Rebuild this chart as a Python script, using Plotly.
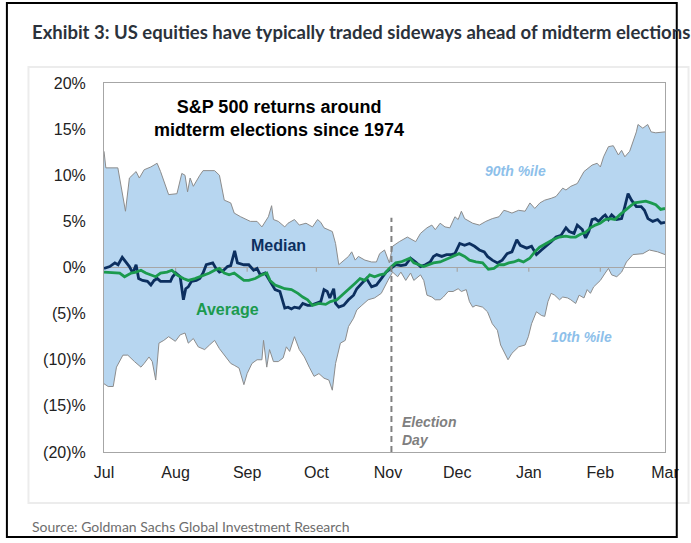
import plotly.graph_objects as go

# S&P 500 returns around midterm elections since 1974
# x = trading-calendar days after 1 Jul, y = % return

month_names = ["Jul", "Aug", "Sep", "Oct", "Nov", "Dec", "Jan", "Feb", "Mar"]
month_days = [0, 31, 62, 92, 123, 153, 184, 215, 243]
y_ticks = [-20, -15, -10, -5, 0, 5, 10, 15, 20]
y_labels = ["(20)%", "(15)%", "(10)%", "(5)%", "0%", "5%", "10%", "15%", "20%"]
election_day = 124.5

p90_day = [0, 0.8, 6, 9.3, 11, 13.9, 15.3, 17.4, 20.3, 23, 24.5, 28, 31.6, 33.7, 35.1, 36.2,
           37.3, 38.7, 41.5, 42.9, 47.9, 50, 52.1, 54.9, 56.4, 59.2, 63.4, 66.3, 68.4, 71.2,
           72.6, 73.4, 75.5, 78.3, 79.7, 82.5, 84.6, 87.5, 90.3, 92.5, 93.9, 95.3, 98.9, 100.3,
           101.7, 103.8, 105.9, 107.3, 108.8, 110.2, 113, 115.9, 118, 119.4, 121.5, 123.6, 125,
           127.9, 131.4, 135, 137.1, 139.9, 142, 143.5, 145.6, 147.7, 149.8, 152, 153.4, 154.8,
           156.2, 159.7, 162.6, 165.4, 168.2, 171.1, 173.2, 174.6, 176.7, 179.6, 182.4, 184.5,
           186.6, 188.8, 190.9, 193.7, 195.8, 198.7, 200.1, 202.2, 205, 207.9, 210, 211.4, 213.6,
           215, 216.4, 218.5, 220.6, 222.8, 224.2, 225.6, 227.7, 229.1, 230.6, 231.3, 233.4,
           235.5, 237, 239, 243]
p90_pct = [12.6, 10.8, 10.8, 6.1, 9.7, 10.4, 9.7, 10.6, 10.9, 11.3, 10.4, 7.9, 8.0, 10.2, 10.0, 8.2,
           9.7, 8.8, 10.0, 10.5, 10.5, 10.0, 7.3, 7.0, 5.9, 5.5, 5.0, 5.0, 4.4, 5.5,
           6.7, 5.2, 5.0, 4.4, 4.8, 5.2, 4.6, 4.8, 4.4, 5.2, 4.9, 4.3, 3.9, 2.6,
           0.3, 0.8, 1.2, 1.7, 0.8, 1.2, 0.8, 0.6, 0.6, 1.5, 1.9, 0.5, 2.3,
           2.8, 3.3, 2.8, 3.7, 4.3, 4.6, 4.1, 4.8, 4.4, 4.3, 5.5, 5.2, 6.1,
           5.3, 4.8, 4.6, 5.0, 5.3, 5.5, 6.2, 6.1, 5.9, 6.2, 6.1, 7.0,
           6.4, 7.0, 7.3, 7.5, 7.7, 8.6, 8.4, 8.8, 9.1, 10.4, 10.8, 11.1, 11.3,
           10.9, 12.0, 13.1, 13.2, 12.2, 12.7, 12.0, 12.6, 13.6, 14.7, 15.5, 15.1,
           15.5, 14.7, 14.6, 14.7]

p10_day = [0, 1.8, 4, 5.4, 8.2, 10.3, 13.2, 16, 17.4, 19.5, 20.9, 22.4, 23.8, 25.9, 28, 30.9,
           33, 35.1, 36.5, 38.7, 40.8, 43.6, 45.7, 47.9, 50, 52.8, 54.9, 56.4, 58.5, 60.6, 62,
           64.1, 66.3, 68.4, 69.1, 70.5, 71.7, 73.4, 75.5, 77.6, 79, 80.4, 82.5, 84.6, 86.8,
           88.9, 91, 93.1, 95.3, 97.4, 98.9, 100.3, 102.4, 104.5, 105.9, 108.1, 109.5, 111.7,
           114.4, 117.2, 120.1, 123, 125, 127.2, 128.6, 130.7, 132.8, 134.2, 137.1, 138.5,
           139.9, 142, 143.5, 145.6, 147, 149.1, 151.2, 153.4, 154.8, 156.9, 158.3, 159.7,
           161.1, 164, 166.1, 168.2, 170.4, 171.8, 173.9, 175, 176.7, 179.6, 182.4, 183.8,
           185.2, 187.3, 189.5, 190.9, 192.3, 193.7, 195.2, 197.3, 198.7, 200.8, 202.2, 204.3,
           205.8, 207.9, 209.3, 210.7, 212.1, 215, 217.1, 218.5, 219.9, 222.1, 224.2, 226.3,
           229.1, 233.4, 236.2, 239.8, 243]
p10_pct = [-12.6, -12.9, -12.9, -10.8, -9.5, -9.5, -10.2, -10.8, -10.4, -9.7, -10.2, -12.2, -8.2,
           -7.9, -7.5, -8.0, -7.3, -7.1, -8.2, -7.7, -8.6, -8.9, -8.4, -7.9, -8.8, -9.7, -10.4,
           -10.6, -10.9, -12.7, -11.5, -10.4, -10.0, -10.0, -7.9, -10.8, -8.9, -10.2, -10.2,
           -9.8, -8.6, -9.1, -7.5, -8.9, -9.7, -10.8, -11.8, -11.5, -12.0, -12.2, -13.3, -10.4,
           -8.2, -7.9, -6.4, -5.5, -4.6, -4.1, -3.5, -3.3, -2.8, -1.4, -0.5, -1.0, -0.5, -1.4,
           -0.6, -1.4, -0.8, -1.4, -3.0, -3.2, -3.5, -3.5, -3.2, -2.6, -2.6, -2.3, -2.6, -2.4,
           -3.7, -4.3, -4.1, -4.3, -4.8, -6.1, -6.8, -8.4, -9.5, -10.0, -9.3, -8.6, -8.4, -7.5,
           -6.1, -4.8, -5.2, -5.3, -3.7, -2.8, -3.0, -3.5, -3.2, -3.3, -3.5, -3.9, -3.0, -3.3,
           -2.4, -2.8, -2.1, -1.4, -0.6, -0.1, -0.8, -1.0, -0.5, 0.6, 1.4, 1.5, 1.9, 1.7, 1.4]

med_day = [0, 2.5, 4.7, 6.1, 7.9, 9.3, 11, 12.5, 13.9, 15, 16.7, 18.8, 20.3, 21.7, 23.1, 24.5,
           26.6, 28.8, 29.7, 31.1, 33, 34.4, 35.4, 36.5, 37.9, 40, 41.5, 42.9, 44.3, 47.1, 48.5,
           50, 51.8, 53.5, 54.9, 56.6, 57.8, 60.6, 62.7, 64.8, 66.3, 67.7, 69.8, 71.2, 72.6,
           74.1, 76.2, 77.6, 78.3, 79.7, 81.2, 82.5, 84.6, 86.1, 88.2, 89.6, 91.8, 93.9, 95.3,
           96.7, 97.8, 99.5, 100.3, 101.7, 103.8, 105.9, 108.1, 109.5, 111.7, 113.7, 115.9, 118,
           120.1, 122.2, 124.3, 126.4, 128.6, 130.7, 132.8, 135, 137.1, 139.2, 141.3, 142.7,
           144.1, 146.3, 148.4, 150.5, 152, 154.1, 156.2, 158.3, 160.5, 162.6, 164.7, 166.1,
           168.2, 170.4, 172.5, 174.6, 176.7, 178.8, 180.3, 183.1, 185.2, 187.3, 189.5, 191.6,
           193.7, 195.8, 198, 200.1, 201.5, 203.6, 205, 207.2, 208.6, 210, 211.4, 212.8, 214.2,
           216.1, 217.1, 218.5, 219.9, 222.1, 224.2, 225.6, 227, 228.5, 230.6, 232.7, 234.1,
           235.6, 237.7, 239.8, 241.3, 243]
med_pct = [-0.1, 0.1, 0.5, 0.3, 1.1, 0.6, 0.1, -0.6, 0.3, -1.2, -1.4, -1.5, -1.9, -1.4, -1.2, -1.5,
           -1.5, -1.5, -1.0, -0.6, -1.0, -3.5, -2.3, -2.1, -1.5, -1.4, -1.2, -0.6, 0.3, 0.5, -0.1,
           -0.5, -0.3, 0.1, 0.2, 1.8, 0.5, 0.3, 0.3, -0.3, -0.1, -0.8, -0.6, -1.2, -1.9,
           -2.4, -2.6, -3.9, -4.4, -4.3, -4.5, -4.3, -4.4, -3.9, -4.1, -4.1, -3.9, -3.7, -2.4,
           -2.6, -3.3, -2.3, -3.9, -4.3, -4.1, -3.5, -3.0, -2.3, -1.7, -1.2, -2.1, -1.9,
           -1.2, -0.5, -0.1, 0.3, 0.2, 0.3, 1.0, 0.6, 0.1, 0.3, 0.6, 1.2,
           1.4, 1.2, 1.4, 1.4, 1.5, 2.6, 2.4, 2.6, 2.3, 1.9, 1.7, 1.2,
           0.8, 0.5, 0.8, 1.5, 1.7, 3.0, 2.4, 2.1, 2.3, 1.4, 1.9, 2.3,
           2.8, 3.3, 3.5, 4.3, 3.9, 3.7, 4.6, 4.1, 3.2, 3.9, 5.2, 5.3, 5.0,
           5.5, 5.7, 5.2, 5.7, 5.2, 5.3, 6.6, 8.0, 7.3, 6.6, 6.6, 6.2,
           5.3, 5.0, 5.2, 4.8, 4.9]

avg_day = [0, 4, 6.8, 8.9, 11.8, 13.9, 16, 18.1, 20.3, 22.4, 24.5, 27.3, 29.4, 31.6, 34.4, 36.5,
           39.4, 41.5, 43.6, 45.7, 47.9, 50, 52.1, 54.2, 56.4, 58.5, 60.6, 62.7, 65.5, 68.4, 70.5,
           71.9, 74.1, 76.2, 78.3, 81.2, 84, 86.1, 88.2, 90.3, 93.1, 96, 98.1, 100.9, 103.8,
           105.9, 108.8, 110.9, 113, 115.1, 117.2, 119.4, 121.5, 123.6, 126.4, 128.6, 130.7,
           132.5, 134.2, 136.3, 138.5, 140.6, 142.7, 145.6, 149.1, 151.2, 153.8, 156.2, 158.3,
           161.1, 164, 166.5, 168.9, 171.1, 173.2, 175.3, 177.5, 179.6, 181.7, 184.4, 186.6,
           188.7, 191.5, 194.4, 197.2, 200, 202.2, 204.3, 206.4, 208.5, 210.7, 212.8, 214.9,
           217.1, 219.2, 221.3, 223.4, 225.6, 227.7, 229.8, 232.6, 234.7, 236.9, 239, 241.1, 243]
avg_pct = [-0.5, -0.6, -0.6, -1.0, -0.6, -0.5, -0.3, -0.6, -0.8, -1.0, -0.6, -0.5, -0.3, -0.8,
           -1.2, -1.4, -1.2, -1.0, -0.8, -0.6, -0.3, -0.1, -0.6, -0.8, -0.6, -1.0, -1.4, -1.4,
           -1.2, -0.8, -0.6, -1.4, -1.9, -2.1, -2.3, -2.4, -2.8, -3.2, -3.5, -4.1, -3.9, -4.0,
           -3.7, -3.5, -2.8, -2.3, -1.7, -1.2, -1.4, -0.8, -1.0, -0.8, -0.7, -0.1, 0.5, 0.6,
           0.8, 1.0, 0.5, 0.3, 0.1, 0.3, 0.5, 0.6, 1.0, 1.2, 1.5, 1.2, 0.8, 0.6, 0.5, -0.2,
           -0.1, 0.3, 0.3, 0.5, 0.6, 0.8, 0.6, 1.0, 1.7, 2.2, 2.6, 3.0, 3.3, 3.4, 3.3, 3.3,
           3.6, 3.8, 4.3, 4.6, 4.8, 5.2, 5.3, 5.2, 5.7, 6.2, 6.6, 7.0, 7.1, 7.2, 7.0, 6.8, 6.3, 6.4]

BAND = "#b7d6f0"
EDGE = "#8c8c8c"
NAVY = "#0c2f5f"
GREEN = "#1b9a4e"
AXIS = "#a6a6a6"

fig = go.Figure()

# 10th / 90th percentile band
fig.add_trace(go.Scatter(x=p10_day, y=p10_pct, mode="lines",
                         line=dict(color=EDGE, width=1), hoverinfo="skip"))
fig.add_trace(go.Scatter(x=p90_day, y=p90_pct, mode="lines", fill="tonexty",
                         fillcolor=BAND, line=dict(color=EDGE, width=1), hoverinfo="skip"))

# zero line with small month ticks
fig.add_trace(go.Scatter(x=[month_days[0], month_days[-1]], y=[0, 0], mode="lines",
                         line=dict(color=AXIS, width=1.2), hoverinfo="skip"))
tx, ty = [], []
for m in month_days[1:-1]:
    tx += [m, m, None]
    ty += [0, -0.45, None]
fig.add_trace(go.Scatter(x=tx, y=ty, mode="lines", line=dict(color=AXIS, width=1.2),
                         hoverinfo="skip"))

fig.add_trace(go.Scatter(x=med_day, y=med_pct, mode="lines", name="Median",
                         line=dict(color=NAVY, width=2.8)))
fig.add_trace(go.Scatter(x=avg_day, y=avg_pct, mode="lines", name="Average",
                         line=dict(color=GREEN, width=2.8)))

# election day marker
fig.add_shape(type="line", x0=election_day, x1=election_day, y0=-20, y1=5.4,
              line=dict(color="#808080", width=2, dash="6px,4px"))

arial = "Liberation Sans, Arial, sans-serif"
notes = [
    (76, 16.1, "<b>S&P 500 returns around<br>midterm elections since 1974</b>", "black", 18, "center"),
    (75.6, 2.4, "<b>Median</b>", NAVY, 16, "center"),
    (53.7, -4.6, "<b>Average</b>", GREEN, 16, "center"),
    (178.2, 10.5, "<b><i>90th %ile</i></b>", "#8dc0ea", 14, "center"),
    (206.9, -7.5, "<b><i>10th %ile</i></b>", "#8dc0ea", 14, "center"),
    (128.3, -17.7, "<b><i>Election<br>Day</i></b>", "#7f7f7f", 14, "left"),
]
for x, y, t, c, s, a in notes:
    fig.add_annotation(x=x, y=y, text=t, showarrow=False, xanchor=a, align=a,
                       font=dict(family=arial, size=s, color=c))

# title, source, card and outer frame
fig.add_annotation(xref="paper", yref="paper", x=(29 - 104) / 572, y=(452 - 32) / 369,
                   xanchor="left", yanchor="middle", showarrow=False,
                   text="<b>Exhibit 3: US equities have typically traded sideways ahead of midterm elections</b>",
                   font=dict(family="Lato", size=18.5, color="#2b323b"))
fig.add_annotation(xref="paper", yref="paper", x=(29 - 104) / 572, y=(452 - 526) / 369,
                   xanchor="left", yanchor="middle", showarrow=False,
                   text="Source: Goldman Sachs Global Investment Research",
                   font=dict(family="Lato", size=14, color="#6e6e6e"))
fig.add_shape(type="rect", xref="paper", yref="paper", layer="below",
              x0=(27 - 104) / 572, x1=(700 - 104) / 572,
              y0=(452 - 503) / 369, y1=(452 - 67) / 369,
              line=dict(color="#ececec", width=2), fillcolor="white")
fig.add_shape(type="rect", xref="paper", yref="paper",
              x0=(5 - 104) / 572, x1=(688 - 104) / 572,
              y0=(452 - 537) / 369, y1=(452 - 3) / 369,
              line=dict(color="black", width=2))

fig.update_layout(
    width=691, height=543,
    margin=dict(l=104, r=15, t=83, b=91),
    paper_bgcolor="white", plot_bgcolor="white",
    showlegend=False,
    xaxis=dict(range=[0, 243], tickvals=month_days, ticktext=month_names,
               showgrid=False, zeroline=False, showline=True, mirror=True,
               linecolor=AXIS, linewidth=1, ticks="", ticklabelstandoff=6,
               tickfont=dict(family=arial, size=16, color="#222")),
    yaxis=dict(range=[-20, 20], tickvals=y_ticks, ticktext=y_labels,
               showgrid=False, zeroline=False, showline=True, mirror=True,
               linecolor=AXIS, linewidth=1, ticks="", ticklabelstandoff=14,
               tickfont=dict(family=arial, size=16, color="#222")),
)

fig.write_html("out.html", config={"displayModeBar": False},
               post_script="document.body.style.margin='0';document.body.style.overflow='hidden';")
